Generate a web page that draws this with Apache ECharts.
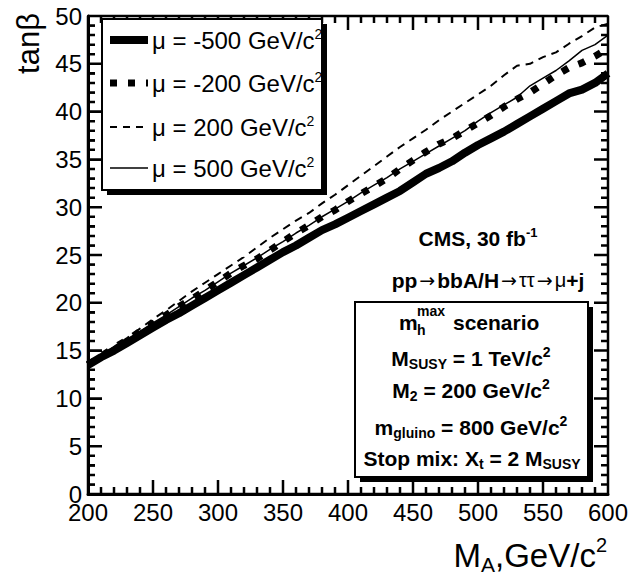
<!DOCTYPE html>
<html><head><meta charset="utf-8">
<script src="https://cdn.jsdelivr.net/npm/echarts@6.0.0/dist/echarts.min.js"></script>
<style>html,body{margin:0;padding:0;background:#fff}#c{width:632px;height:576px}</style>
</head><body><div id="c"></div><script>
// M_A values (GeV/c^2)
const massGeV = [200,210,220,230,240,250,260,270,280,290,300,310,320,330,340,350,360,370,380,390,400,
                 410,420,430,440,450,460,470,480,490,500,510,520,530,540,550,560,570,580,590,600];
// tan(beta) discovery contours
const tanbMuM500 = [13.5,14.3,15.0,15.8,16.6,17.4,18.2,18.9,19.7,20.5,21.3,22.1,22.9,23.7,24.5,25.3,26.0,26.8,27.6,28.2,28.9,
                    29.6,30.3,31.0,31.7,32.6,33.5,34.1,34.8,35.7,36.5,37.2,37.9,38.7,39.5,40.3,41.1,41.9,42.3,43.0,44.0];
const tanbMuM200 = [13.5,14.4,15.3,16.1,17.0,17.8,18.7,19.6,20.4,21.3,22.2,23.1,23.9,24.6,25.5,26.4,27.3,28.1,29.0,29.7,30.6,
                    31.4,32.2,33.0,34.0,34.9,35.8,36.6,37.2,38.0,38.8,39.6,40.5,41.3,42.0,42.9,43.8,44.6,45.1,45.8,46.6];
const tanbMu200  = [13.5,14.4,15.4,16.3,17.3,18.3,19.2,20.2,21.2,22.1,23.0,23.9,24.8,25.8,26.8,27.7,28.6,29.4,30.4,31.3,32.3,
                    33.3,34.3,35.3,36.3,37.2,38.1,39.1,40.0,40.9,41.8,42.7,43.8,44.8,45.0,45.7,46.2,47.1,47.9,48.8,49.2];
const tanbMu500  = [13.5,14.4,15.3,16.1,17.0,17.9,18.7,19.6,20.5,21.3,22.2,23.1,23.9,24.7,25.6,26.4,27.3,28.1,29.0,29.8,30.6,
                    31.5,32.3,33.1,34.0,34.8,35.6,36.4,37.2,38.0,39.0,39.9,40.7,41.5,42.7,43.5,44.3,45.3,46.4,47.0,48.0];
const seriesNames = ['μ = -500 GeV/c', 'μ = -200 GeV/c', 'μ = 200 GeV/c', 'μ = 500 GeV/c'];
// frame tick positions
const xMajorTicks = [200,250,300,350,400,450,500,550,600];
const xMinorTicks = [210,220,230,240,260,270,280,290,310,320,330,340,360,370,380,390,
                     410,420,430,440,460,470,480,490,510,520,530,540,560,570,580,590];
const yMajorTicks = [0,5,10,15,20,25,30,35,40,45,50];
const yMinorTicks = [1,2,3,4,6,7,8,9,11,12,13,14,16,17,18,19,21,22,23,24,26,27,28,29,
                     31,32,33,34,36,37,38,39,41,42,43,44,46,47,48,49];
const X_MIN = 200, X_MAX = 600, Y_MIN = 0, Y_MAX = 50;

const FF = "'Liberation Sans', Arial, Helvetica, sans-serif";
const chart = echarts.init(document.getElementById('c'), null, {renderer: 'svg'});
const pts = ys => massGeV.map((m, i) => [m, ys[i]]);

const richSup = {
  t: {fontSize: 24, fontFamily: FF, fill: '#000', lineHeight: 26},
  s: {fontSize: 14, fontFamily: FF, fill: '#000', verticalAlign: 'top', lineHeight: 26}
};
const bRich = {
  b: {fontSize: 21, fontWeight: 'bold', fontFamily: FF, fill: '#000', lineHeight: 26},
  sm: {fontSize: 14, fontWeight: 'bold', fontFamily: FF, fill: '#000', lineHeight: 14},
  sub: {fontSize: 14, fontWeight: 'bold', fontFamily: FF, fill: '#000', verticalAlign: 'bottom', lineHeight: 26},
  sup: {fontSize: 14, fontWeight: 'bold', fontFamily: FF, fill: '#000', verticalAlign: 'top', lineHeight: 26}
};
function txt(x, y, text, rich, align) {
  return {type: 'text', x: x, y: y, z: 110,
    style: {text: text, rich: rich, align: align || 'center', verticalAlign: 'middle', fill: '#000'}};
}
const legendRows = [40, 83, 127, 168];
const elements = [
  {type: 'rect', z: 100, shape: {x: 107, y: 24, width: 220, height: 171}, style: {fill: '#000'}},
  {type: 'rect', z: 101, shape: {x: 102, y: 19, width: 220, height: 171}, style: {fill: '#fff', stroke: '#000', lineWidth: 2}},
  {type: 'line', z: 105, shape: {x1: 110, y1: legendRows[0], x2: 148, y2: legendRows[0]}, style: {stroke: '#000', lineWidth: 8}},
  {type: 'line', z: 105, shape: {x1: 110, y1: legendRows[1], x2: 148, y2: legendRows[1]}, style: {stroke: '#000', lineWidth: 7, lineDash: [7, 11]}},
  {type: 'line', z: 105, shape: {x1: 110, y1: legendRows[2], x2: 148, y2: legendRows[2]}, style: {stroke: '#000', lineWidth: 2, lineDash: [7, 6]}},
  {type: 'line', z: 105, shape: {x1: 110, y1: legendRows[3], x2: 148, y2: legendRows[3]}, style: {stroke: '#000', lineWidth: 1.5}},
  {type: 'rect', z: 100, shape: {x: 360, y: 307, width: 233, height: 175}, style: {fill: '#000'}},
  {type: 'rect', z: 101, shape: {x: 355, y: 302, width: 233, height: 175}, style: {fill: '#fff', stroke: '#000', lineWidth: 2}},
];
seriesNames.forEach((n, i) => elements.push(txt(152, legendRows[i], '{t|' + n + '}{s|2}', richSup, 'left')));
const cmsRich = {
  b: {fontSize: 21, fontWeight: 'bold', fontFamily: FF, fill: '#000', lineHeight: 24},
  a: {fontSize: 19, fontFamily: "'DejaVu Sans'", fill: '#000', lineHeight: 24, padding: [0, 2]},
  g: {fontSize: 20, fontFamily: FF, fill: '#000', lineHeight: 24},
  s: {fontSize: 13, fontWeight: 'bold', fontFamily: FF, fill: '#000', verticalAlign: 'top', lineHeight: 24}
};
elements.push(txt(478, 238, '{b|CMS, 30 fb}{s|-1}', cmsRich));
elements.push(txt(488, 280, '{b|pp}{a|→}{b|bbA/H}{a|→}{g|ττ}{a|→}{g|μ}{b|+j}', cmsRich));
elements.push(txt(399, 322, '{b|m}', bRich, 'left'));
elements.push(txt(417, 311, '{sm|max}', bRich, 'left'));
elements.push(txt(417, 330, '{sm|h}', bRich, 'left'));
elements.push(txt(453, 322, '{b|scenario}', bRich, 'left'));
elements.push(txt(471, 358, '{b|M}{sub|SUSY}{b| = 1 TeV/c}{sup|2}', bRich));
elements.push(txt(471, 390, '{b|M}{sub|2}{b| = 200 GeV/c}{sup|2}', bRich));
elements.push(txt(471, 427, '{b|m}{sub|gluino}{b| = 800 GeV/c}{sup|2}', bRich));
elements.push(txt(472, 458, '{b|Stop mix: X}{sub|t}{b| = 2 M}{sub|SUSY}', bRich));
elements.push({type: 'text', x: 607, y: 555, z: 110, style: {
  text: '{m|M}{a|A}{m|,GeV/c}{p|2}', align: 'right', verticalAlign: 'middle',
  rich: {m: {fontSize: 33, fontFamily: FF, fill: '#000', lineHeight: 40},
         a: {fontSize: 21, fontFamily: FF, fill: '#000', verticalAlign: 'bottom', lineHeight: 40},
         p: {fontSize: 20, fontFamily: FF, fill: '#000', verticalAlign: 'top', lineHeight: 40}}}});
elements.push({type: 'text', x: 28, y: 13, rotation: Math.PI / 2, z: 110, style: {
  text: 'tanβ', align: 'right', verticalAlign: 'middle', fontSize: 31, fontFamily: FF, fill: '#000'}});

// Whole frame as one polyline running round the plot, with inward tick spikes, through the cartesian coords
function renderFrame(params, api) {
  const merge = (maj, min) => maj.map(v => [v, 14]).concat(min.map(v => [v, 7])).sort((a, b) => a[0] - b[0]);
  const xs = merge(xMajorTicks, xMinorTicks);
  const ys = merge(yMajorTicks, yMinorTicks);
  const p = [];
  const spike = (val, dx, dy) => { const b = api.coord(val); p.push([b[0], b[1]]); p.push([b[0] + dx, b[1] + dy]); p.push([b[0], b[1]]); };
  xs.forEach(t => spike([t[0], Y_MIN], 0, -t[1]));
  ys.forEach(t => spike([X_MAX, t[0]], -t[1], 0));
  xs.slice().reverse().forEach(t => spike([t[0], Y_MAX], 0, t[1]));
  ys.slice().reverse().forEach(t => spike([X_MIN, t[0]], t[1], 0));
  return {type: 'polyline', shape: {points: p},
          style: {stroke: '#000', fill: 'none', lineWidth: 2.5, lineJoin: 'bevel'}};
}

const nativeTicks = {
  axisTick: {show: true, inside: true, length: 14, lineStyle: {color: '#000', width: 2}},
  minorTick: {show: true, splitNumber: 5, length: 7, lineStyle: {color: '#000', width: 1.5}}
};
chart.setOption({
  animation: false,
  grid: {left: 88, right: 24, top: 16, bottom: 82},
  xAxis: Object.assign({type: 'value', min: X_MIN, max: X_MAX, interval: 50, position: 'bottom',
    axisLine: {show: true, onZero: false, lineStyle: {color: '#000', width: 3}},
    splitLine: {show: false},
    axisLabel: {color: '#000', fontSize: 24, fontFamily: FF, margin: 6}}, nativeTicks),
  yAxis: Object.assign({type: 'value', min: Y_MIN, max: Y_MAX, interval: 5, position: 'left',
    axisLine: {show: true, onZero: false, lineStyle: {color: '#000', width: 3}},
    splitLine: {show: false},
    axisLabel: {color: '#000', fontSize: 24, fontFamily: FF, margin: 6}}, nativeTicks),
  graphic: {elements: elements},
  series: [
    {type: 'custom', silent: true, clip: false, z: 8, data: [[X_MIN, Y_MIN]], renderItem: renderFrame},
    {type: 'line', name: seriesNames[0], data: pts(tanbMuM500), showSymbol: false, silent: true, z: 3,
     lineStyle: {color: '#000', width: 8, cap: 'butt', join: 'round'}},
    {type: 'line', name: seriesNames[1], data: pts(tanbMuM200), showSymbol: false, silent: true, z: 4,
     lineStyle: {color: '#000', width: 7, type: [7, 11], cap: 'butt'}},
    {type: 'line', name: seriesNames[2], data: pts(tanbMu200), showSymbol: false, silent: true, z: 5,
     lineStyle: {color: '#000', width: 2, type: [8, 6]}},
    {type: 'line', name: seriesNames[3], data: pts(tanbMu500), showSymbol: false, silent: true, z: 6,
     lineStyle: {color: '#000', width: 1.5}}
  ]
});
</script></body></html>
